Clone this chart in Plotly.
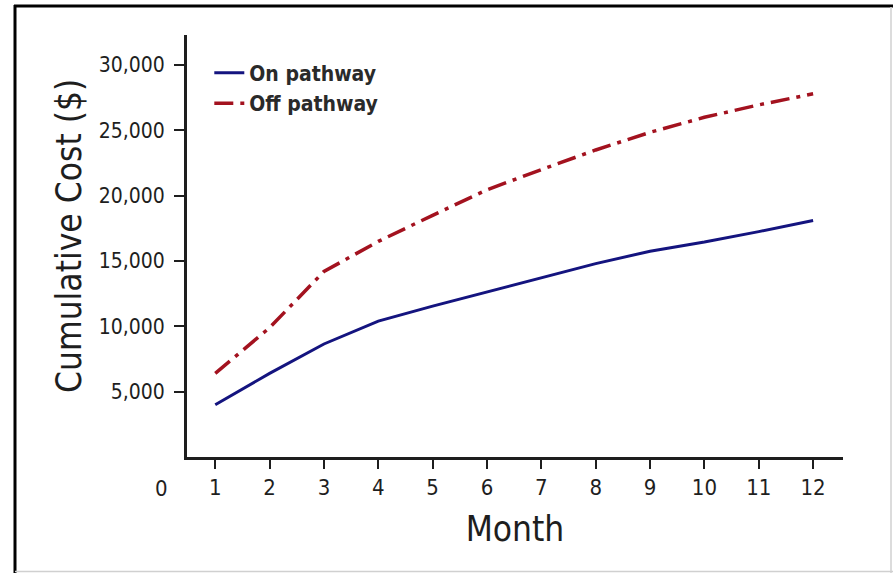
import plotly.graph_objects as go

months = [1, 2, 3, 4, 5, 6, 7, 8, 9, 10, 11, 12]
on_pathway = [4000, 6400, 8650, 10400, 11550, 12650, 13750, 14800, 15750, 16450, 17250, 18100]
off_pathway = [6400, 9900, 14200, 16500, 18500, 20450, 22000, 23500, 24850, 26000, 26950, 27800]
y_ticks = [5000, 10000, 15000, 20000, 25000, 30000]
y_tick_labels = ["5,000", "10,000", "15,000", "20,000", "25,000", "30,000"]

W, H = 893, 573
L, R, T, B = 187, 50, 35, 116
FONT = "DejaVu Sans Condensed, Roboto, sans-serif"
TXT = "#1e1e1e"

fig = go.Figure()
fig.add_trace(go.Scatter(x=months, y=on_pathway, mode="lines", name="On pathway",
                         line=dict(color="#14147f", width=3)))
fig.add_trace(go.Scatter(x=months, y=off_pathway, mode="lines", name="Off pathway",
                         line=dict(color="#a3121f", width=3.5, dash="19px,7px,4px,7px")))

def px(xp):
    return (xp - L) / (W - L - R)

def py(yp):
    return (H - B - yp) / (H - T - B)

# outer frame
fig.add_shape(type="line", xref="paper", yref="paper", x0=px(14), x1=px(893), y0=py(6), y1=py(6),
              line=dict(color="black", width=3))
fig.add_shape(type="line", xref="paper", yref="paper", x0=px(15), x1=px(15), y0=py(5), y1=py(573),
              line=dict(color="black", width=3))
fig.add_shape(type="line", xref="paper", yref="paper", x0=px(891), x1=px(891), y0=py(7), y1=py(573),
              line=dict(color="#d0d0d0", width=1.5))
fig.add_shape(type="line", xref="paper", yref="paper", x0=px(15), x1=px(893), y0=py(571.5), y1=py(571.5),
              line=dict(color="#d0d0d0", width=1.5))

fig.add_annotation(x=px(161), y=0, xref="paper", yref="paper", text="0", showarrow=False,
                   xanchor="center", yanchor="top", yshift=-17,
                   font=dict(family=FONT, size=22, color=TXT))
fig.add_annotation(x=px(69), y=py(236), xref="paper", yref="paper", text="Cumulative Cost ($)",
                   showarrow=False, textangle=-90, xanchor="center", yanchor="middle",
                   font=dict(family=FONT, size=35, color=TXT))

fig.update_layout(
    width=W, height=H,
    margin=dict(l=L, r=R, t=T, b=B),
    paper_bgcolor="white", plot_bgcolor="white",
    font=dict(family=FONT, color=TXT),
    showlegend=True,
    legend=dict(x=0.034, y=0.958, xanchor="left", yanchor="top",
                font=dict(family=FONT, size=21, color="#2a2a2a", weight="bold"),
                bgcolor="rgba(0,0,0,0)", tracegroupgap=0, itemwidth=30),
    xaxis=dict(range=[0.48, 12.55], tickvals=months, ticks="outside", ticklen=9, tickwidth=2,
               tickcolor=TXT, showline=True, linecolor=TXT, linewidth=3,
               showgrid=False, zeroline=False, tickfont=dict(family=FONT, size=22, color=TXT),
               title=dict(text="Month", font=dict(family=FONT, size=35, color=TXT), standoff=18)),
    yaxis=dict(range=[0, 32300], tickvals=y_ticks, ticktext=y_tick_labels, ticks="outside",
               ticklen=10, tickwidth=2, tickcolor=TXT, showline=True, linecolor=TXT,
               linewidth=3, showgrid=False, zeroline=False, ticklabelstandoff=5,
               tickfont=dict(family=FONT, size=21, color=TXT)),
)

fig.write_html("out.html", config={"displayModeBar": False},
               post_script="document.body.style.margin='0';")
